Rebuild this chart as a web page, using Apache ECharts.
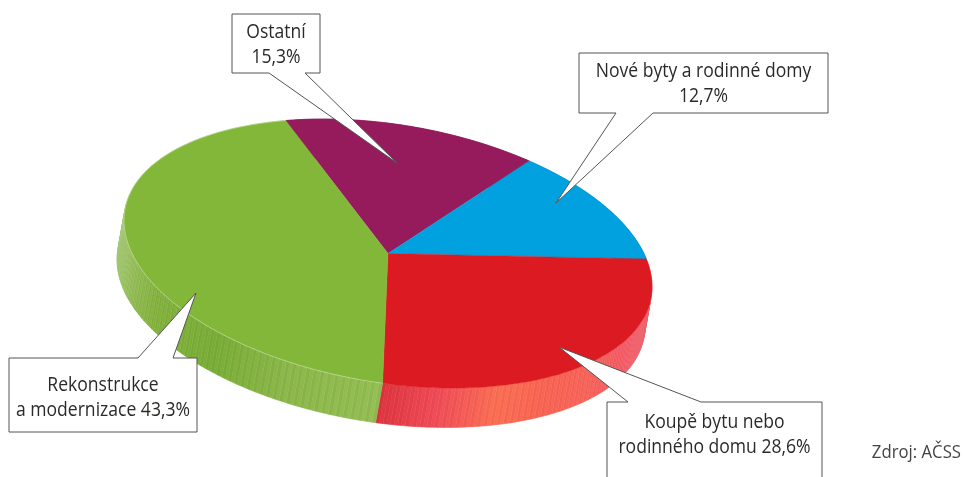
<!DOCTYPE html>
<html>
<head>
<meta charset="utf-8">
<style>html,body{margin:0;padding:0;background:#fff}#c{width:964px;height:477px}</style>
<script src="https://cdn.jsdelivr.net/npm/echarts@6/dist/echarts.min.js"></script>
</head>
<body>
<div id="c"></div>
<script>
// data (clockwise, from the green/purple boundary)
var categories = ['Ostatní', 'Nové byty a rodinné domy', 'Koupě bytu nebo rodinného domu', 'Rekonstrukce a modernizace'];
var values = [15.3, 12.7, 28.6, 43.3];
var sliceColors = ['#951B5D', '#00A1DE', '#DC1A21', '#83B739'];
var wallRamps = [
  ['#7a1650', '#7a1650'],
  ['#0088bb', '#0088bb'],
  ['#e8666f', '#e8666f', '#e8606a', '#ee5560', '#f06055', '#f2604f', '#f46a50', '#ea4a55', '#d8323d'],
  ['#8fb950', '#88b248', '#75a834', '#7fac3b', '#96bc5f', '#a3c67a', '#a3c67a', '#a3c67a', '#a3c67a']
];
var calloutText = [
  'Ostatní\n15,3%',
  'Nové byty a rodinné domy\n12,7%',
  'Koupě bytu nebo\nrodinného domu 28,6%',
  'Rekonstrukce\na modernizace 43,3%'
];
var sourceText = 'Zdroj: AČSS';

// layout
var pie = { cx: 388, cy: 253.5, ux: 264, uy: 33, vy: 130.4, startDeg: -112.8, depthX: -7, depthY: 39.5 };
var textFont = '19.5px "Open Sans"', textScaleX = 0.9;
var callouts = [
  { box: [232, 14, 320, 73], tail: [[305, 73], [397, 163], [269, 73]], side: 'bottom' },
  { box: [579, 53, 828, 113], tail: [[653, 113], [556, 203], [616, 113]], side: 'bottom' },
  { box: [607, 402, 822, 490], tail: [[628, 402], [559, 347], [701, 402]], side: 'top' },
  { box: [9, 358, 197, 432], tail: [[138, 358], [196, 293], [173, 358]], side: 'top' }
];

function rimPoint(deg, dx, dy) {
  var t = deg * Math.PI / 180;
  return [
    pie.cx + pie.ux * Math.cos(t) + (dx || 0),
    pie.cy + pie.uy * Math.cos(t) + pie.vy * Math.sin(t) + (dy || 0)
  ];
}
function sliceRange(i) {
  var total = values.reduce(function (a, b) { return a + b; }, 0), before = 0;
  for (var k = 0; k < i; k++) before += values[k];
  return [pie.startDeg + before / total * 360, pie.startDeg + (before + values[i]) / total * 360];
}
function renderTop(params, api) {
  var r = sliceRange(params.dataIndex), pts = [[pie.cx, pie.cy]];
  var n = Math.ceil(r[1] - r[0]);
  for (var i = 0; i <= n; i++) pts.push(rimPoint(r[0] + (r[1] - r[0]) * i / n));
  var c = api.visual('color');
  return { type: 'polygon', shape: { points: pts }, style: { fill: c, stroke: c, lineWidth: 0.4 } };
}
function renderRimLine(params) {
  if (params.dataIndex !== 3) return null;
  var r = sliceRange(params.dataIndex), pts = [];
  var n = Math.ceil(r[1] - r[0]);
  for (var i = 0; i <= n; i++) pts.push(rimPoint(r[0] + (r[1] - r[0]) * i / n));
  return { type: 'polyline', shape: { points: pts }, style: { fill: null, stroke: 'rgba(255,255,255,0.5)', lineWidth: 0.7 } };
}
function renderWall(params) {
  var idx = params.dataIndex, r = sliceRange(idx), kids = [];
  var step = 0.8, n = Math.ceil((r[1] - r[0]) / step), ramp = wallRamps[idx];
  for (var i = 0; i < n; i++) {
    var a = r[0] + (r[1] - r[0]) * i / n, b = r[0] + (r[1] - r[0]) * (i + 1) / n;
    var col = echarts.color.lerp((i + 0.5) / n, ramp);
    if (i % 2 === 1) col = echarts.color.lift(col, -0.04);
    kids.push({
      type: 'polygon',
      shape: { points: [rimPoint(a), rimPoint(b), rimPoint(b, pie.depthX, pie.depthY), rimPoint(a, pie.depthX, pie.depthY)] },
      style: { fill: col, stroke: col, lineWidth: 0.5 }
    });
  }
  return { type: 'group', children: kids };
}

function calloutGraphics() {
  var out = [];
  callouts.forEach(function (c, i) {
    var b = c.box, pts;
    if (c.side === 'bottom') {
      pts = [[b[0], b[1]], [b[2], b[1]], [b[2], b[3]]].concat(c.tail).concat([[b[0], b[3]]]);
    } else {
      pts = [[b[0], b[1]], c.tail[0], c.tail[1], c.tail[2], [b[2], b[1]], [b[2], b[3]], [b[0], b[3]]];
    }
    out.push({
      type: 'polygon', z: 10,
      shape: { points: pts },
      style: { fill: '#fff', stroke: '#555', lineWidth: 1 }
    });
    var lineY = [ [32, 57], [71, 96], [422, 447], [385, 410] ][i];
    calloutText[i].split('\n').forEach(function (line, j) {
      out.push({
        type: 'text', z: 11, x: (b[0] + b[2]) / 2, y: lineY[j], scaleX: textScaleX,
        style: { text: line, fill: '#2b2a29', font: textFont, align: 'center', verticalAlign: 'middle' }
      });
    });
  });
  out.push({
    type: 'text', z: 11, x: 961, y: 453, scaleX: 0.93,
    style: { text: sourceText, fill: '#444', font: '18px "Open Sans"', align: 'right', verticalAlign: 'middle' }
  });
  return out;
}

var seriesData = categories.map(function (n, i) {
  return { name: n, value: values[i], itemStyle: { color: sliceColors[i] } };
});
var chart = echarts.init(document.getElementById('c'), null, { renderer: 'canvas' });
chart.setOption({
  animation: false,
  backgroundColor: '#fff',
  tooltip: { show: false },
  series: [
    { type: 'custom', name: 'wall', coordinateSystem: 'none', silent: true, z: 1, renderItem: renderWall, data: seriesData },
    { type: 'custom', name: 'top', coordinateSystem: 'none', silent: true, z: 2, renderItem: renderTop, data: seriesData },
    { type: 'custom', name: 'rim', coordinateSystem: 'none', silent: true, z: 3, renderItem: renderRimLine, data: seriesData }
  ],
  graphic: { elements: calloutGraphics() }
});
</script>
</body>
</html>
